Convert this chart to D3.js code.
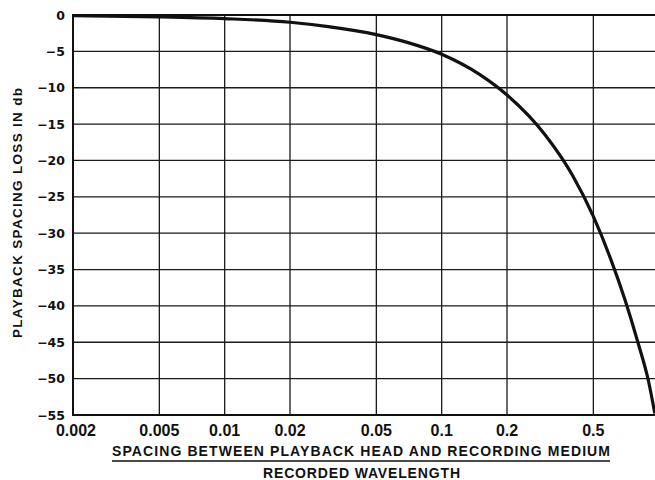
<!DOCTYPE html>
<html>
<head>
<meta charset="utf-8">
<script src="https://cdn.jsdelivr.net/npm/d3@7"></script>
<style>
  html, body { margin: 0; padding: 0; background: #fff; }
  svg { display: block; }
  text { font-weight: bold; fill: #111; }
</style>
</head>
<body>
<svg id="chart" width="655" height="480"></svg>
<script>
// Data
const ratio = [0.002, 0.005, 0.01, 0.02, 0.03, 0.05, 0.07, 0.1, 0.15, 0.2, 0.3, 0.4, 0.5, 0.6, 0.7, 0.8, 0.9, 0.96];
const lossDb = [-0.1, -0.25, -0.5, -1.0, -1.6, -2.7, -3.8, -5.4, -8.2, -11.0, -16.5, -22.0, -27.7, -33.5, -39.2, -44.9, -50.5, -54.8];
const xTicks = [0.002, 0.005, 0.01, 0.02, 0.05, 0.1, 0.2, 0.5];
const xTickLabels = ["0.002", "0.005", "0.01", "0.02", "0.05", "0.1", "0.2", "0.5"];
const yTicks = [0, -5, -10, -15, -20, -25, -30, -35, -40, -45, -50, -55];
const yTitle = "PLAYBACK SPACING LOSS IN db";
const xTitleTop = "SPACING BETWEEN PLAYBACK HEAD AND RECORDING MEDIUM";
const xTitleBottom = "RECORDED WAVELENGTH";

const svg = d3.select("#chart");
const L = 73, T = 15, B = 415, R = 655;
const x = d3.scaleLog().domain([0.002, 1]).range([L, L + Math.log10(500) * 217]);
const y = d3.scaleLinear().domain([0, -55]).range([T, B]);

const g = svg.append("g");

// horizontal grid
g.selectAll("line.h").data(yTicks).enter().append("line")
  .attr("x1", L).attr("x2", R)
  .attr("y1", d => y(d)).attr("y2", d => y(d))
  .attr("stroke", "#1a1a1a").attr("stroke-width", 1.3);

// vertical grid
g.selectAll("line.v").data(xTicks.slice(1)).enter().append("line")
  .attr("x1", d => x(d)).attr("x2", d => x(d))
  .attr("y1", T).attr("y2", B)
  .attr("stroke", "#1a1a1a").attr("stroke-width", 1.3);

// frame lines
g.append("line").attr("x1", L).attr("x2", L).attr("y1", T - 1).attr("y2", B + 1)
  .attr("stroke", "#111").attr("stroke-width", 2);
g.append("line").attr("x1", L).attr("x2", R).attr("y1", B).attr("y2", B)
  .attr("stroke", "#111").attr("stroke-width", 2);
g.append("line").attr("x1", L).attr("x2", R).attr("y1", T).attr("y2", T)
  .attr("stroke", "#111").attr("stroke-width", 2);

// y tick labels
g.selectAll("text.yt").data(yTicks).enter().append("text")
  .attr("x", 65).attr("y", d => y(d) + 4.5)
  .attr("text-anchor", "end").attr("font-size", 12.5)
  .attr("font-family", "'DejaVu Sans', sans-serif")
  .text(d => d === 0 ? "0" : "\u2212" + Math.abs(d));

// x tick labels
g.selectAll("text.xt").data(xTicks).enter().append("text")
  .attr("x", (d, i) => x(d) + (i === 0 ? 3 : 0)).attr("y", 436)
  .attr("text-anchor", "middle").attr("font-size", 16)
  .attr("font-family", "'Liberation Sans', Arial, sans-serif")
  .text((d, i) => xTickLabels[i]);

// curve
svg.append("defs").append("clipPath").attr("id", "clip")
  .append("rect").attr("x", L).attr("y", T - 3).attr("width", R - L).attr("height", B - T + 4);
const line = d3.line().x((d, i) => x(ratio[i])).y(d => y(d)).curve(d3.curveMonotoneX);
g.append("path").datum(lossDb).attr("d", line)
  .attr("fill", "none").attr("stroke", "#111").attr("stroke-width", 3.2)
  .attr("clip-path", "url(#clip)");

// y title
g.append("text")
  .attr("transform", "translate(22,213) rotate(-90)")
  .attr("text-anchor", "middle").attr("font-size", 13.5)
  .attr("font-family", "'Liberation Sans', Arial, sans-serif")
  .attr("textLength", 250).attr("lengthAdjust", "spacing")
  .text(yTitle);

// x title
g.append("text").attr("x", 112).attr("y", 456)
  .attr("font-size", 14).attr("font-family", "'Liberation Sans', Arial, sans-serif")
  .attr("textLength", 498).attr("lengthAdjust", "spacing")
  .text(xTitleTop);
g.append("line").attr("x1", 112).attr("x2", 610).attr("y1", 461).attr("y2", 461)
  .attr("stroke", "#111").attr("stroke-width", 1.5);
g.append("text").attr("x", 263).attr("y", 478)
  .attr("font-size", 14).attr("font-family", "'Liberation Sans', Arial, sans-serif")
  .attr("textLength", 197).attr("lengthAdjust", "spacing")
  .text(xTitleBottom);
</script>
</body>
</html>
